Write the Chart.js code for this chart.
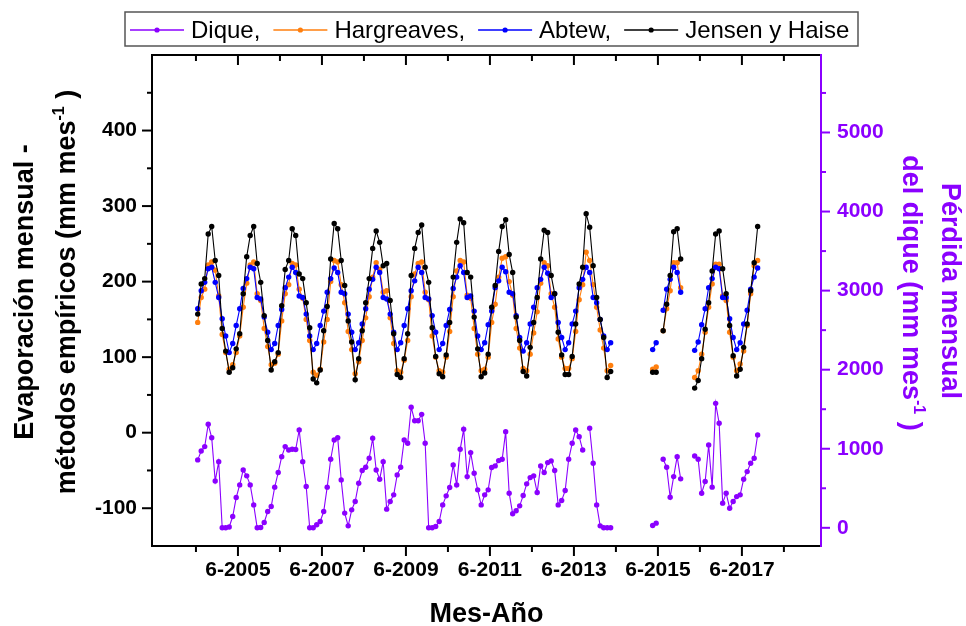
<!DOCTYPE html>
<html lang="es">
<head>
<meta charset="utf-8">
<title>Evaporación mensual y pérdida del dique</title>
<script src="https://cdn.jsdelivr.net/npm/chart.js@4.4.1/dist/chart.umd.min.js"></script>
<style>
  html, body { margin: 0; padding: 0; background: #fff; }
  #grafico { display: block; }
</style>
</head>
<body>
<canvas id="grafico" width="966" height="626"></canvas>
<script>
// serie mensual desde junio 2004 hasta octubre 2017 (161 meses), null = sin dato
const anioInicio = 2004;
const mesInicio = 6;

const dique = [
  859, 972, 1027, 1309, 1140, 593, 837, 0, 0, 10, 143, 383,
  543, 732, 657, 543, 290, 0, 4, 67, 206, 269, 514, 699,
  900, 1027, 985, 993, 990, 1237, 837, 522, 0, 0, 38, 80,
  206, 514, 867, 1111, 1140, 606, 186, 25, 227, 332, 564, 724,
  766, 880, 1132, 732, 615, 837, 236, 332, 417, 669, 766, 1111,
  1069, 1524, 1355, 1355, 1435, 1069, 0, 0, 17, 80, 290, 404,
  509, 795, 543, 993, 1246, 648, 951, 690, 480, 290, 417, 480,
  762, 783, 850, 867, 1216, 438, 177, 215, 278, 408, 556, 635,
  657, 446, 783, 699, 825, 846, 724, 290, 345, 471, 867, 1069,
  1237, 1153, 985, null, 1259, 817, 290, 25, 0, 0, 0,
  null, null, null, null, null, null, null, null, null, null, null,
  29, 59,
  null,
  867, 766, 387, 648, 900, 619,
  null, null, null,
  909, 867, 438, 585, 1048, 514, 1574, 1322, 312, 438, 248, 332, 395, 417, 615, 711, 817, 880, 1174
];

const hargreaves = [
  146, 179, 190, 222, 226, 215, 181, 130, 106, 84, 90, 106,
  128, 166, 198, 222, 226, 184, 175, 138, 114, 90, 92, 104,
  148, 184, 196, 224, 222, 190, 178, 150, 122, 80, 76, 84,
  120, 150, 200, 228, 226, 196, 172, 134, 110, 78, 94, 122,
  152, 180, 206, 225, 216, 186, 188, 152, 118, 82, 80, 96,
  122, 180, 210, 224, 226, 186, 176, 128, 100, 82, 80, 100,
  134, 180, 214, 228, 226, 182, 178, 138, 104, 82, 84, 100,
  146, 170, 206, 231, 233, 200, 182, 138, 112, 85, 82, 104,
  132, 160, 198, 225, 221, 184, 166, 124, 100, 85, 85, 98,
  134, 176, 196, 239, 228, 196, 166, 136, 112, 82, 89,
  null, null, null, null, null, null, null, null, null, null, null,
  84, 87,
  null,
  135, 164, 188, 225, 225, 192,
  null, null, null,
  73, 82, 104, 133, 166, 197, 223, 223, 181, 175, 133, 100, 82, 91, 108, 142, 184, 221, 228
];

const abtew = [
  164, 188, 199, 217, 219, 199, 179, 151, 128, 106, 118, 142,
  164, 191, 204, 219, 217, 179, 177, 153, 133, 110, 118, 142,
  163, 192, 206, 219, 212, 181, 179, 157, 128, 110, 118, 142,
  161, 186, 204, 218, 212, 186, 184, 157, 133, 110, 119, 144,
  164, 190, 203, 219, 212, 179, 177, 157, 133, 110, 119, 142,
  164, 188, 201, 219, 212, 179, 177, 155, 133, 110, 118, 142,
  163, 191, 206, 221, 212, 179, 181, 161, 128, 110, 119, 143,
  161, 192, 201, 219, 213, 186, 184, 155, 126, 108, 119, 144,
  166, 192, 203, 219, 211, 179, 184, 146, 126, 110, 119, 144,
  161, 192, 203, 219, 212, 179, 172, 150, 128, 110, 119,
  null, null, null, null, null, null, null, null, null, null, null,
  110, 119,
  null,
  162, 190, 203, 219, 212, 186,
  null, null, null,
  109, 120, 143, 164, 192, 204, 219, 217, 179, 179, 151, 126, 110, 119, 144, 162, 190, 206, 218
];

const jensenHaise = [
  157, 197, 204, 263, 273, 228, 208, 138, 108, 80, 86, 111,
  131, 184, 233, 261, 273, 224, 199, 155, 122, 83, 94, 106,
  168, 216, 228, 270, 261, 210, 204, 172, 139, 71, 66, 83,
  135, 167, 230, 277, 270, 228, 195, 148, 120, 70, 98, 135,
  172, 204, 244, 267, 252, 221, 224, 175, 131, 77, 73, 98,
  131, 208, 244, 265, 275, 219, 199, 139, 101, 78, 74, 103,
  146, 206, 252, 283, 278, 212, 206, 153, 111, 74, 79, 104,
  166, 195, 240, 273, 282, 236, 212, 153, 122, 81, 75, 113,
  146, 179, 230, 268, 265, 208, 184, 133, 103, 77, 77, 101,
  144, 197, 219, 290, 272, 221, 179, 150, 126, 73, 81,
  null, null, null, null, null, null, null, null, null, null, null,
  80, 80,
  null,
  135, 170, 208, 266, 270, 230,
  null, null, null,
  59, 69, 98, 137, 172, 214, 263, 267, 217, 184, 142, 102, 75, 84, 113, 144, 188, 225, 273
];

const etiquetas = ['Dique,', 'Hargreaves,', 'Abtew,', 'Jensen y Haise'];
const aniosTick = [2004, 2005, 2006, 2007, 2008, 2009, 2010, 2011, 2012, 2013, 2014, 2015, 2016, 2017, 2018];
const ticksIzq = [-100, -50, 0, 50, 100, 150, 200, 250, 300, 350, 400, 450];
const ticksDer = [0, 500, 1000, 1500, 2000, 2500, 3000, 3500, 4000, 4500, 5000, 5500];

const morado = '#8b00ff';
const naranja = '#ff7f0e';
const azul = '#0000ff';
const negro = '#000000';
const familia = '"Liberation Sans", Arial, Helvetica, sans-serif';

// fecha decimal en la mitad de cada mes
function puntos(serie) {
  return serie.map((v, i) => ({ x: anioInicio + (mesInicio - 1 + i + 0.5) / 12, y: v }));
}

function serieCfg(label, data, color, eje, orden) {
  return {
    label, data: puntos(data), yAxisID: eje, order: orden,
    borderColor: color, backgroundColor: color,
    borderWidth: 1.1, pointRadius: 2.7, pointBorderWidth: 0, pointHoverRadius: 2.7,
    tension: 0, spanGaps: false
  };
}

function textoRico(ctx, partes, tam) {
  const fN = `bold ${tam}px ${familia}`;
  const fS = `bold ${Math.round(tam * 0.58)}px ${familia}`;
  let total = 0;
  partes.forEach(([t, sup]) => { ctx.font = sup ? fS : fN; total += ctx.measureText(t).width; });
  let x = -total / 2;
  ctx.textAlign = 'left';
  partes.forEach(([t, sup]) => {
    ctx.font = sup ? fS : fN;
    ctx.fillText(t, x, sup ? -tam * 0.42 : 0);
    x += ctx.measureText(t).width;
  });
}

const marco = {
  id: 'marco',
  afterDraw(chart) {
    const { ctx, chartArea: a, scales } = chart;
    ctx.save();
    ctx.lineWidth = 2;
    ctx.strokeStyle = negro;
    ctx.beginPath();
    ctx.moveTo(a.right, a.top); ctx.lineTo(a.left, a.top);
    ctx.lineTo(a.left, a.bottom); ctx.lineTo(a.right, a.bottom);
    ctx.stroke();

    // marcas del eje x, abajo hacia fuera y arriba hacia dentro
    scales.x.ticks.forEach(t => {
      const px = scales.x.getPixelForValue(t.value);
      const largo = Math.round(t.value - 5 / 12) % 2 === 1 ? 10 : 6;
      ctx.beginPath();
      ctx.moveTo(px, a.bottom); ctx.lineTo(px, a.bottom + largo);
      ctx.moveTo(px, a.top); ctx.lineTo(px, a.top + largo);
      ctx.stroke();
    });
    scales.y.ticks.forEach(t => {
      const py = scales.y.getPixelForValue(t.value);
      const largo = t.value % 100 === 0 ? 10 : 5;
      ctx.beginPath();
      ctx.moveTo(a.left, py); ctx.lineTo(a.left - largo, py);
      ctx.stroke();
    });
    ctx.strokeStyle = morado;
    ctx.beginPath();
    ctx.moveTo(a.right, a.top - 1); ctx.lineTo(a.right, a.bottom + 1);
    ctx.stroke();
    scales.y2.ticks.forEach(t => {
      const py = scales.y2.getPixelForValue(t.value);
      const largo = t.value % 1000 === 0 ? 9 : 5;
      ctx.beginPath();
      ctx.moveTo(a.right, py); ctx.lineTo(a.right + largo, py);
      ctx.stroke();
    });

    // títulos de los ejes
    ctx.fillStyle = negro;
    ctx.textBaseline = 'alphabetic';
    ctx.font = `bold 27px ${familia}`;
    ctx.textAlign = 'center';
    ctx.fillText('Mes-Año', (a.left + a.right) / 2, 622);

    ctx.save();
    ctx.translate(33, 292); ctx.rotate(-Math.PI / 2);
    textoRico(ctx, [['Evaporación mensual -', false]], 27);
    ctx.restore();
    ctx.save();
    ctx.translate(75, 292); ctx.rotate(-Math.PI / 2);
    textoRico(ctx, [['métodos empíricos (mm mes', false], ['-1', true], [' )', false]], 27);
    ctx.restore();

    ctx.fillStyle = morado;
    ctx.save();
    ctx.translate(942, 291); ctx.rotate(Math.PI / 2);
    textoRico(ctx, [['Pérdida mensual', false]], 27);
    ctx.restore();
    ctx.save();
    ctx.translate(903, 293); ctx.rotate(Math.PI / 2);
    textoRico(ctx, [['del dique (mm mes', false], ['-1', true], [' )', false]], 27);
    ctx.restore();

    // leyenda
    ctx.strokeStyle = '#555';
    ctx.lineWidth = 1.5;
    ctx.strokeRect(125, 12, 733, 34);
    ctx.font = `24px ${familia}`;
    ctx.textBaseline = 'middle';
    ctx.textAlign = 'left';
    let x = 130;
    const y = 30;
    chart.data.datasets.forEach(ds => {
      ctx.strokeStyle = ds.borderColor;
      ctx.fillStyle = ds.borderColor;
      ctx.lineWidth = 1.3;
      ctx.beginPath(); ctx.moveTo(x, y); ctx.lineTo(x + 54, y); ctx.stroke();
      ctx.beginPath(); ctx.arc(x + 27, y, 2.6, 0, Math.PI * 2); ctx.fill();
      ctx.fillStyle = negro;
      ctx.fillText(ds.label, x + 61, y + 1);
      x += 61 + ctx.measureText(ds.label).width + 13;
    });
    ctx.restore();
  }
};

const fuenteTicks = { family: familia, size: 21, weight: 'bold' };

new Chart(document.getElementById('grafico'), {
  type: 'line',
  data: {
    datasets: [
      serieCfg(etiquetas[0], dique, morado, 'y2', 4),
      serieCfg(etiquetas[1], hargreaves, naranja, 'y', 3),
      serieCfg(etiquetas[2], abtew, azul, 'y', 2),
      serieCfg(etiquetas[3], jensenHaise, negro, 'y', 1)
    ]
  },
  options: {
    responsive: false,
    animation: false,
    devicePixelRatio: 1,
    layout: { padding: { top: 55, left: 0, right: 0, bottom: 0 } },
    plugins: { legend: { display: false }, tooltip: { enabled: false } },
    scales: {
      x: {
        type: 'linear',
        min: 2003.37,
        max: 2019.30,
        afterBuildTicks: s => { s.ticks = aniosTick.map(an => ({ value: an + 5 / 12 })); },
        afterFit: s => { s.height = 80; },
        grid: { display: false, drawTicks: false },
        border: { display: false },
        ticks: {
          autoSkip: false, maxRotation: 0, padding: 12, color: negro, font: fuenteTicks,
          callback: v => { const an = Math.round(v - 5 / 12); return an % 2 === 1 ? '6-' + an : ''; }
        }
      },
      y: {
        position: 'left',
        min: -150,
        max: 500,
        afterBuildTicks: s => { s.ticks = ticksIzq.map(v => ({ value: v })); },
        afterFit: s => { s.width = 152; },
        grid: { display: false, drawTicks: false },
        border: { display: false },
        ticks: {
          padding: 15, color: negro, font: fuenteTicks,
          callback: v => v % 100 === 0 ? String(v) : ''
        }
      },
      y2: {
        position: 'right',
        min: -230,
        max: 5980,
        afterBuildTicks: s => { s.ticks = ticksDer.map(v => ({ value: v })); },
        afterFit: s => { s.width = 145; },
        grid: { display: false, drawTicks: false },
        border: { display: false },
        ticks: {
          padding: 16, color: morado, font: fuenteTicks,
          callback: v => v % 1000 === 0 ? String(v) : ''
        }
      }
    }
  },
  plugins: [marco]
});
</script>
</body>
</html>
